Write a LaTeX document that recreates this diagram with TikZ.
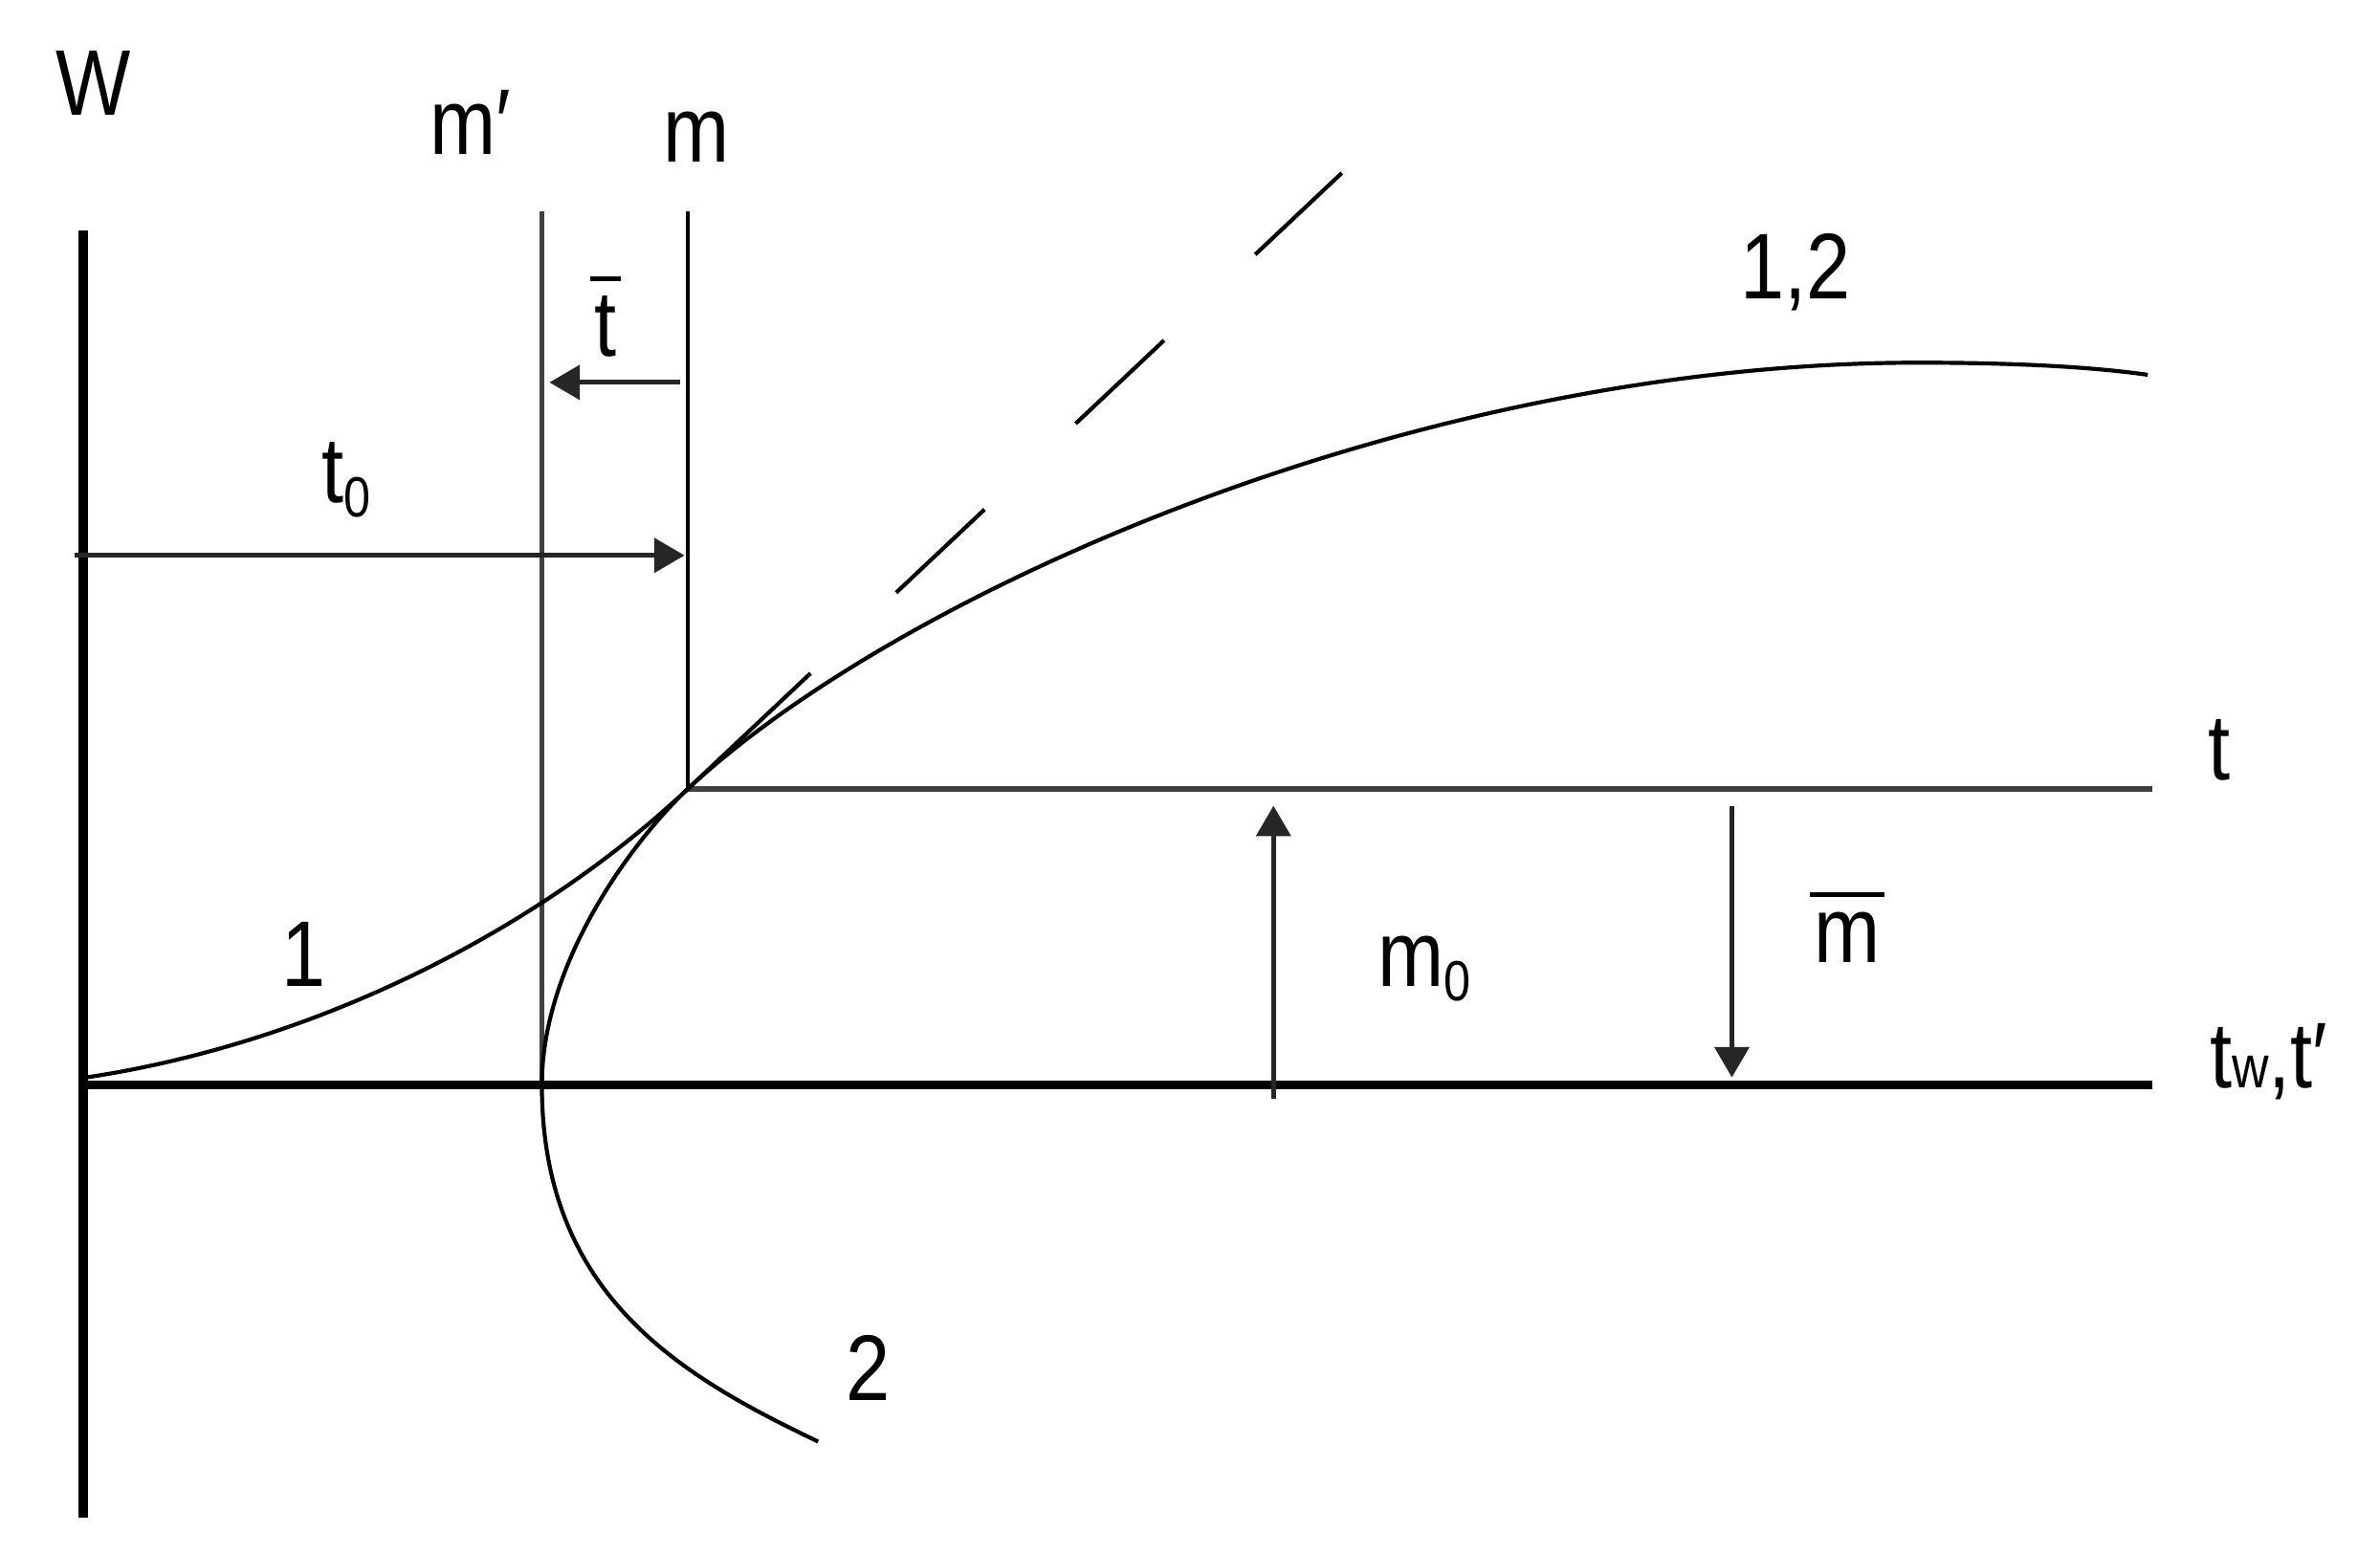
\documentclass[tikz,border=0pt]{standalone}
\usepackage{fontspec}
\setmainfont{Liberation Sans}[FakeStretch=0.85]
\usetikzlibrary{arrows.meta}
\newcommand\lowsub[1]{\raisebox{-2.2pt}{\fontsize{8.5}{9}\selectfont #1}}
\newcommand\barred[1]{\vbox{\hrule height 0.8pt \kern 2.2pt \hbox{\kern0.6pt #1\kern0.6pt}}}
\begin{document}
\begin{tikzpicture}[x=0.8cm, y=0.8cm, >={Triangle[length=1.6mm, width=1.8mm]}, font=\fontsize{14}{16}\selectfont]
    \tikzset{lbl/.style={inner sep=0pt, anchor=base},
             axis/.style={line width=1.4pt},
             curve/.style={line width=0.6pt},
             guide/.style={line width=0.8pt, black!75},
             dim/.style={->, line width=0.7pt, black!85}}
    \useasboundingbox (0,0) rectangle (15.68,10.24);

    \coordinate (wtop) at (0.55,8.72);
    \coordinate (wbot) at (0.55,0.24);
    \coordinate (O) at (0.55,3.09);
    \coordinate (twend) at (14.18,3.09);
    \coordinate (V) at (3.57,3.09);
    \coordinate (P) at (4.53,5.04);
    \coordinate (tend) at (14.18,5.04);
    \coordinate (mptop) at (3.57,8.85);
    \coordinate (mtop) at (4.53,8.85);

    \draw[axis] (wbot) -- (wtop);
    \draw[axis] (O) -- (twend);
    \draw[guide] (mptop) -- (V);
    \draw[curve] (mtop) -- (P);
    \draw[guide] (P) -- (tend);

    % dimension arrows
    \coordinate (t0a) at (0.49,6.58);  \coordinate (t0b) at (4.51,6.58);
    \coordinate (tba) at (4.48,7.72);  \coordinate (tbb) at (3.62,7.72);
    \coordinate (m0a) at (8.39,3.00);  \coordinate (m0b) at (8.39,4.93);
    \coordinate (mba) at (11.41,4.93); \coordinate (mbb) at (11.41,3.14);
    \draw[dim] (t0a) -- (t0b);
    \draw[dim] (tba) -- (tbb);
    \draw[dim] (m0a) -- (m0b);
    \draw[dim] (mba) -- (mbb);

    % curves 1 and 2
    \draw[curve] (0.57,3.14) .. controls (2.04,3.36) and (3.51,4.08) .. (P)
        .. controls (5.9,6.32) and (9.3,7.85) .. (12.64,7.85)
        .. controls (13.3,7.85) and (13.8,7.82) .. (14.15,7.77);
    \draw[curve] (5.39,0.74) .. controls (4.49,1.17) and (3.57,1.70) .. (V)
        .. controls (3.57,3.90) and (4.17,4.70) .. (P);
    \coordinate (tan) at (8.84,9.10);
    \draw[curve, dash pattern=on 0.89cm off 0.62cm on 0.64cm off 0.66cm on 0.64cm off 0.66cm on 0.64cm off 1cm] (P) -- (tan);

    \node[lbl] (W) at (0.615,9.48) {W};
    \node[lbl] (mp) at (3.10,9.22) {m′};
    \node[lbl] (m) at (4.59,9.17) {m};
    \node[lbl] (tbar) at (3.99,7.89) {\barred{t}};
    \node[lbl] (t0) at (2.28,6.93) {t\lowsub{0}};
    \node[lbl] (one) at (2.00,3.74) {1};
    \node[lbl] (two) at (5.72,1.01) {2};
    \node[lbl] (onetwo) at (11.83,8.27) {1,2};
    \node[lbl] (t) at (14.62,5.10) {t};
    \node[lbl, anchor=base west] (tw) at (14.55,3.07) {t{\fontsize{9}{9}\selectfont w},t′};
    \node[lbl, anchor=base west] (m0) at (9.07,3.74) {m\lowsub{0}};
    \node[lbl] (mbar) at (12.17,3.90) {\barred{m}};
\end{tikzpicture}
\end{document}
